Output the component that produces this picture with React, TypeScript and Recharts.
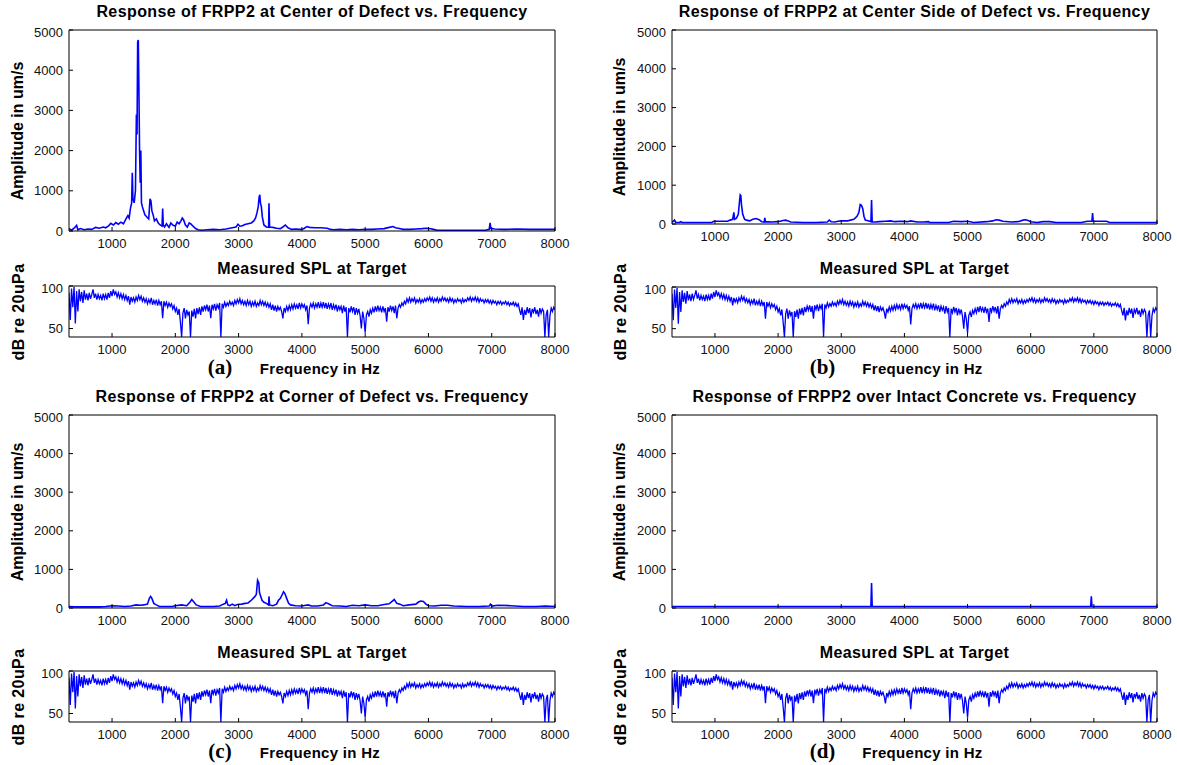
import React from 'react';
import { LineChart, Line, XAxis, YAxis } from 'recharts';

// frequency response, [Hz, um/s]
const ampCenter: [number, number][] = [
  [320, 60], [360, 20], [400, 70], [440, 140], [460, 30], [500, 60], [560, 30], [620, 50], [680, 40], [740, 90],
  [800, 70], [860, 100], [900, 80], [940, 120], [980, 190], [1020, 150], [1060, 210], [1100, 170], [1140, 220], [1180, 180],
  [1220, 300], [1250, 380], [1270, 320], [1290, 550], [1310, 700], [1320, 1450], [1330, 800], [1350, 700], [1370, 1000], [1385, 2900],
  [1395, 2400], [1405, 4700], [1415, 4750], [1425, 3500], [1435, 2000], [1445, 1200], [1455, 2000], [1465, 700], [1480, 600], [1500, 500],
  [1520, 400], [1550, 350], [1580, 300], [1600, 800], [1615, 750], [1630, 500], [1650, 400], [1670, 250], [1700, 300], [1730, 200],
  [1760, 150], [1790, 120], [1800, 560], [1810, 150], [1830, 100], [1860, 180], [1900, 90], [1930, 200], [1960, 150], [2000, 120],
  [2030, 220], [2060, 180], [2090, 250], [2110, 320], [2130, 280], [2160, 150], [2190, 100], [2220, 200], [2250, 170], [2280, 120],
  [2320, 60], [2360, 30], [2420, 20], [2500, 30], [2600, 40], [2700, 30], [2800, 50], [2900, 80], [2960, 100], [2990, 170],
  [3020, 120], [3060, 130], [3100, 160], [3150, 180], [3200, 200], [3240, 250], [3270, 330], [3290, 450], [3310, 600], [3325, 850],
  [3335, 900], [3345, 700], [3360, 600], [3375, 350], [3400, 150], [3440, 100], [3475, 90], [3480, 690], [3490, 100], [3540, 90],
  [3600, 70], [3660, 60], [3700, 100], [3740, 150], [3780, 80], [3840, 40], [3900, 50], [3960, 40], [4000, 40], [4040, 70],
  [4080, 110], [4120, 90], [4200, 80], [4300, 80], [4400, 70], [4450, 40], [4500, 30], [4600, 40], [4700, 30], [4800, 40],
  [4900, 30], [5000, 40], [5100, 40], [5200, 50], [5300, 60], [5380, 90], [5440, 110], [5480, 80], [5540, 60], [5600, 40],
  [5700, 40], [5800, 50], [5900, 60], [5960, 70], [6020, 60], [6080, 40], [6140, 20], [6300, 20], [6500, 20], [6700, 20],
  [6900, 20], [6960, 40], [6975, 200], [6985, 60], [7050, 50], [7200, 40], [7400, 50], [7600, 40], [7800, 40], [8000, 40],
];

const ampCenterSide: [number, number][] = [
  [320, 40], [360, 100], [380, 40], [440, 40], [460, 60], [480, 40], [600, 40], [800, 40], [950, 40], [980, 70],
  [1100, 70], [1200, 70], [1240, 100], [1280, 120], [1300, 300], [1310, 120], [1340, 150], [1370, 250], [1390, 600], [1400, 750],
  [1410, 730], [1420, 500], [1440, 250], [1470, 120], [1500, 100], [1550, 80], [1600, 120], [1650, 140], [1700, 110], [1740, 60],
  [1780, 50], [1790, 160], [1800, 60], [1900, 50], [2000, 60], [2080, 90], [2120, 100], [2160, 80], [2200, 50], [2400, 40],
  [2600, 40], [2780, 50], [2810, 100], [2840, 60], [2900, 50], [2950, 70], [3000, 80], [3100, 80], [3200, 120], [3250, 200],
  [3280, 300], [3300, 500], [3320, 480], [3340, 400], [3360, 200], [3380, 100], [3440, 80], [3470, 60], [3480, 620], [3490, 60],
  [3540, 50], [3600, 60], [3700, 70], [3780, 80], [3850, 60], [3950, 70], [4050, 60], [4100, 80], [4200, 50], [4300, 50],
  [4380, 60], [4400, 40], [4500, 40], [4700, 40], [4780, 70], [4900, 60], [5000, 70], [5100, 40], [5300, 60], [5400, 80],
  [5450, 110], [5500, 100], [5560, 70], [5700, 50], [5800, 60], [5880, 100], [5920, 110], [5960, 90], [6000, 60], [6100, 40],
  [6200, 60], [6300, 60], [6400, 40], [6600, 40], [6800, 40], [6900, 70], [6970, 70], [6980, 280], [6990, 70], [7100, 70],
  [7200, 70], [7250, 40], [7500, 40], [7800, 40], [8000, 40],
];

const ampCorner: [number, number][] = [
  [320, 40], [400, 30], [600, 30], [800, 30], [900, 40], [1000, 60], [1100, 50], [1200, 40], [1300, 50], [1380, 80],
  [1450, 70], [1500, 80], [1560, 100], [1590, 250], [1610, 300], [1630, 250], [1660, 120], [1700, 80], [1750, 40], [1850, 40],
  [1950, 40], [2000, 60], [2100, 80], [2180, 60], [2230, 150], [2260, 220], [2290, 160], [2330, 80], [2400, 40], [2500, 40],
  [2600, 40], [2700, 50], [2760, 100], [2790, 120], [2810, 200], [2830, 80], [2860, 60], [2900, 100], [2940, 60], [2980, 90],
  [3050, 100], [3100, 120], [3150, 130], [3200, 200], [3250, 280], [3280, 350], [3300, 720], [3320, 650], [3330, 400], [3350, 300],
  [3370, 200], [3400, 150], [3440, 120], [3475, 80], [3480, 300], [3490, 80], [3540, 60], [3600, 100], [3630, 200], [3660, 250],
  [3690, 350], [3710, 420], [3730, 380], [3760, 250], [3790, 120], [3820, 80], [3900, 60], [4000, 50], [4060, 70], [4100, 80],
  [4150, 50], [4250, 50], [4340, 80], [4380, 140], [4420, 110], [4480, 60], [4600, 50], [4700, 40], [4800, 70], [4900, 60],
  [5000, 80], [5100, 60], [5200, 60], [5300, 90], [5380, 110], [5430, 180], [5460, 220], [5500, 120], [5550, 100], [5600, 60],
  [5700, 80], [5800, 100], [5850, 160], [5880, 180], [5920, 170], [5960, 100], [6000, 60], [6100, 50], [6200, 70], [6300, 70],
  [6400, 50], [6600, 40], [6800, 40], [6960, 50], [6980, 100], [7000, 50], [7100, 70], [7300, 60], [7500, 40], [7700, 40],
  [7850, 50], [8000, 40],
];

const ampIntact: [number, number][] = [
  [320, 40], [3470, 40], [3480, 650], [3490, 40], [6950, 40], [6960, 300], [6970, 40], [8000, 40],
];

// measured SPL at target, dB re 20uPa, sampled every 20 Hz from 320 Hz
const splDb = [
  92, 60, 97, 75, 99, 56, 94, 70, 96, 82,
  93, 80, 95, 84, 91, 83, 92, 85, 90, 96,
  86, 91, 84, 90, 85, 89, 83, 91, 85, 90,
  84, 92, 86, 94, 88, 96, 90, 93, 87, 92,
  86, 91, 85, 90, 84, 89, 83, 88, 78, 87,
  82, 86, 81, 87, 83, 89, 84, 88, 82, 86,
  81, 85, 79, 84, 80, 86, 78, 83, 79, 84,
  77, 83, 78, 82, 62, 82, 77, 81, 75, 80,
  76, 79, 73, 77, 70, 74, 66, 73, 58, 40,
  68, 74, 62, 72, 66, 70, 40, 71, 64, 73,
  62, 74, 67, 75, 66, 76, 70, 77, 72, 78,
  70, 77, 62, 78, 73, 79, 71, 78, 74, 80,
  40, 79, 75, 81, 76, 80, 77, 82, 78, 81,
  77, 83, 79, 84, 80, 85, 79, 83, 78, 82,
  77, 83, 78, 82, 76, 81, 77, 82, 76, 80,
  77, 83, 78, 82, 77, 81, 76, 80, 75, 79,
  72, 78, 71, 77, 70, 76, 72, 75, 70, 62,
  74, 70, 76, 71, 77, 72, 78, 73, 79, 74,
  78, 73, 80, 74, 79, 75, 78, 72, 77, 55,
  74, 79, 75, 80, 74, 79, 75, 81, 74, 80,
  75, 81, 74, 80, 73, 79, 74, 80, 72, 78,
  73, 78, 70, 77, 72, 76, 68, 77, 70, 75,
  40, 74, 69, 76, 70, 75, 66, 74, 68, 73,
  65, 50, 70, 62, 45, 66, 70, 64, 72, 68,
  74, 69, 76, 70, 77, 71, 75, 69, 76, 70,
  74, 58, 75, 70, 77, 71, 76, 68, 77, 62,
  74, 78, 75, 80, 77, 82, 79, 85, 81, 86,
  81, 85, 82, 86, 80, 84, 81, 85, 80, 84,
  81, 85, 82, 86, 83, 87, 82, 86, 81, 85,
  82, 86, 81, 85, 82, 87, 83, 86, 82, 85,
  81, 86, 82, 85, 80, 84, 81, 85, 82, 84,
  80, 85, 81, 84, 82, 86, 83, 87, 82, 86,
  83, 87, 82, 86, 81, 85, 82, 84, 80, 84,
  81, 84, 80, 83, 79, 83, 80, 82, 78, 82,
  79, 82, 78, 81, 79, 82, 78, 81, 77, 80,
  78, 81, 77, 80, 76, 79, 72, 66, 75, 60,
  72, 66, 75, 68, 74, 63, 73, 69, 75, 67,
  72, 64, 74, 68, 73, 70, 40, 66, 72, 40,
  65, 74, 70, 75, 72,
];
const splFreq = splDb.map((_, i) => 320 + 20 * i);

const freqTicks = [1000, 2000, 3000, 4000, 5000, 6000, 7000, 8000];
const ampTicks = [0, 1000, 2000, 3000, 4000, 5000];
const splTicks = [50, 100];

const toPoints = (pairs: [number, number][]) => pairs.map(([f, v]) => ({ f, v }));
const splPoints = splFreq.map((f, i) => ({ f, v: splDb[i] }));

const FONT = 'Arial, "Liberation Sans", sans-serif';
const BLUE = '#0000ff';

type Box = { left: number; top: number; width: number; height: number };

function Plot({ box, data, domain, ticks, lw }: { box: Box; data: { f: number; v: number }[]; domain: [number, number]; ticks: number[]; lw: number }) {
  const yw = 60;
  const xh = 24;
  const pad = 6;
  const rp = 18;
  return (
    <div style={{ position: 'absolute', left: box.left - yw, top: box.top - pad }}>
      <LineChart
        width={yw + box.width + rp}
        height={pad + box.height + xh}
        margin={{ top: pad - 1, right: rp - 1, bottom: 0, left: 0 }}
      >
        <XAxis
          dataKey="f"
          type="number"
          domain={[320, 8000]}
          ticks={freqTicks}
          allowDataOverflow
          height={xh}
          stroke="#000"
          tickSize={-4}
          tickMargin={12}
          tick={{ fill: '#111', fontSize: 13, fontFamily: FONT }}
        />
        <XAxis
          xAxisId="top"
          orientation="top"
          dataKey="f"
          type="number"
          domain={[320, 8000]}
          ticks={freqTicks}
          allowDataOverflow
          height={1}
          stroke="#000"
          tickSize={-4}
          tick={false}
        />
        <YAxis
          type="number"
          domain={domain}
          ticks={ticks}
          allowDataOverflow
          width={yw}
          stroke="#000"
          tickSize={-4}
          tickMargin={10}
          tick={{ fill: '#111', fontSize: 13, fontFamily: FONT }}
        />
        <YAxis
          yAxisId="right"
          orientation="right"
          type="number"
          domain={domain}
          ticks={ticks}
          allowDataOverflow
          width={1}
          stroke="#000"
          tickSize={-4}
          tick={false}
        />
        <Line
          data={data}
          dataKey="v"
          type="linear"
          stroke={BLUE}
          strokeWidth={lw}
          dot={false}
          isAnimationActive={false}
        />
      </LineChart>
    </div>
  );
}

function Txt({ x, y, children, size = 14, rotate = false, serif = false, spacing = 0 }: { x: number; y: number; children: React.ReactNode; size?: number; rotate?: boolean; serif?: boolean; spacing?: number }) {
  return (
    <div
      style={{
        position: 'absolute',
        left: x,
        top: y,
        transform: `translate(-50%, -50%)${rotate ? ' rotate(-90deg)' : ''}`,
        whiteSpace: 'nowrap',
        fontFamily: serif ? '"Times New Roman", "Liberation Serif", serif' : FONT,
        fontWeight: 'bold',
        fontSize: size,
        letterSpacing: spacing,
        color: '#000',
        lineHeight: 1,
      }}
    >
      {children}
    </div>
  );
}

type PanelDef = {
  title: string;
  letter: string;
  amp: [number, number][];
  ampBox: Box;
  splBox: Box;
  titleY: number;
  splTitleY: number;
  labelX: number;
  freqY: number;
};

const panels: PanelDef[] = [
  {
    title: 'Response of FRPP2 at Center of Defect vs. Frequency', letter: '(a)', amp: ampCenter,
    ampBox: { left: 69, top: 30, width: 486, height: 201 }, splBox: { left: 69, top: 286, width: 486, height: 51 },
    titleY: 12, splTitleY: 269, labelX: 18, freqY: 368,
  },
  {
    title: 'Response of FRPP2 at Center Side of Defect vs. Frequency', letter: '(b)', amp: ampCenterSide,
    ampBox: { left: 672, top: 30, width: 485, height: 194 }, splBox: { left: 672, top: 287, width: 485, height: 50 },
    titleY: 12, splTitleY: 269, labelX: 620, freqY: 368,
  },
  {
    title: 'Response of FRPP2 at Corner of Defect vs. Frequency', letter: '(c)', amp: ampCorner,
    ampBox: { left: 69, top: 415, width: 486, height: 193 }, splBox: { left: 69, top: 671, width: 486, height: 51 },
    titleY: 397, splTitleY: 653, labelX: 18, freqY: 752,
  },
  {
    title: 'Response of FRPP2 over Intact Concrete vs. Frequency', letter: '(d)', amp: ampIntact,
    ampBox: { left: 672, top: 415, width: 485, height: 193 }, splBox: { left: 672, top: 671, width: 485, height: 51 },
    titleY: 397, splTitleY: 653, labelX: 620, freqY: 752,
  },
];

export default function App() {
  return (
    <div style={{ position: 'absolute', left: 0, top: 0, width: 1177, height: 765, overflow: 'hidden', background: '#fff', fontFamily: FONT }}>
      {panels.map((p) => {
        const cx = p.ampBox.left + p.ampBox.width / 2;
        return (
          <React.Fragment key={p.letter}>
            <Txt x={cx} y={p.titleY} size={16} spacing={0.4}>{p.title}</Txt>
            <Plot box={p.ampBox} data={toPoints(p.amp)} domain={[0, 5000]} ticks={ampTicks} lw={1.6} />
            <Txt x={p.labelX} y={p.ampBox.top + p.ampBox.height / 2} rotate size={16}>Amplitude in um/s</Txt>
            <Txt x={cx} y={p.splTitleY} size={16} spacing={0.4}>Measured SPL at Target</Txt>
            <Plot box={p.splBox} data={splPoints} domain={[40, 100]} ticks={splTicks} lw={1.3} />
            <Txt x={p.labelX + 1} y={p.splBox.top + p.splBox.height / 2} rotate size={16} spacing={0.4}>dB re 20uPa</Txt>
            <Txt x={cx - 92} y={p.freqY - 1} size={21} serif>{p.letter}</Txt>
            <Txt x={cx + 8} y={p.freqY} size={15} spacing={0.3}>Frequency in Hz</Txt>
          </React.Fragment>
        );
      })}
    </div>
  );
}
